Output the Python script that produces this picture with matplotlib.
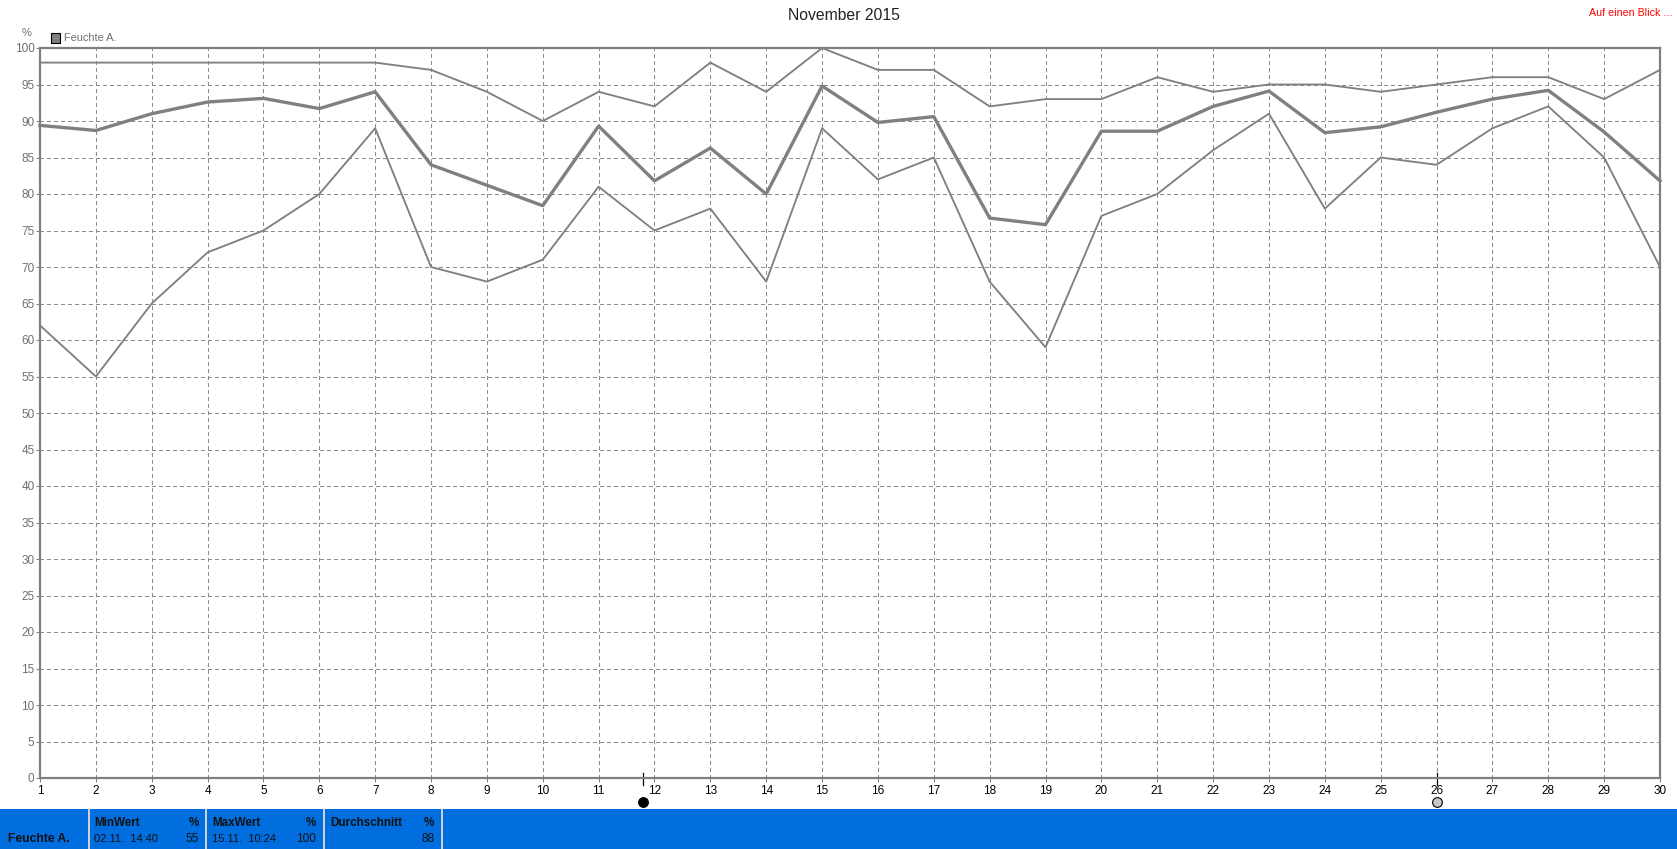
import matplotlib
matplotlib.use("Agg")
import matplotlib.pyplot as plt
from matplotlib.patches import Rectangle

plt.rcParams['font.family'] = ['Liberation Sans', 'DejaVu Sans']

W, H = 1677, 849

days = list(range(1, 31))
hum_max = [98, 98, 98, 98, 98, 98, 98, 97, 94, 90, 94, 92, 98, 94, 100,
           97, 97, 92, 93, 93, 96, 94, 95, 95, 94, 95, 96, 96, 93, 97]
hum_avg = [89.4, 88.7, 91, 92.6, 93.1, 91.7, 94, 84, 81.2, 78.4, 89.3, 81.8, 86.3, 80, 94.8,
           89.8, 90.6, 76.7, 75.8, 88.6, 88.6, 92, 94.1, 88.4, 89.2, 91.2, 93, 94.2, 88.5, 81.8]
hum_min = [62, 55, 65, 72, 75, 80, 89, 70, 68, 71, 81, 75, 78, 68, 89,
           82, 85, 68, 59, 77, 80, 86, 91, 78, 85, 84, 89, 92, 85, 70]
y_ticks = list(range(0, 101, 5))
moon_days = [11.79, 26.0]
moon_fill = ['black', '#c8c8c8']

title = 'November 2015'
series_name = 'Feuchte A.'
link_text = 'Auf einen Blick ...'
panel_heads = ['MinWert', 'MaxWert', 'Durchschnitt']
panel_times = ['02.11.  14:40', '15.11.  10:24', '']
panel_vals = ['55', '100', '88']

GRAY = '#808080'
BLUE = '#006EDF'


def fx(px):
    return px / W


def fy(px):
    return 1 - px / H


fig = plt.figure(figsize=(W / 100, H / 100), dpi=100, facecolor='white')
ax = fig.add_axes([fx(40), fy(778), fx(1660 - 40), fy(48) - fy(778)])
ax.set_xlim(1, 30)
ax.set_ylim(0, 100)
ax.set_xticks(days)
ax.set_yticks(y_ticks)
ax.grid(True, color='#8c8c8c', linestyle=(0, (3.5, 3)), linewidth=0.72, antialiased=False)
ax.set_axisbelow(True)

ax.plot(days, hum_max, color=GRAY, linewidth=1.35, clip_on=False)
ax.plot(days, hum_avg, color=GRAY, linewidth=2.4, clip_on=False)
ax.plot(days, hum_min, color=GRAY, linewidth=1.35, clip_on=False)

for s in ax.spines.values():
    s.set_color(GRAY)
    s.set_linewidth(1.6)

ax.tick_params(axis='y', length=3, width=0.72, color=GRAY, labelcolor='#707070', labelsize=8.5, pad=1)
ax.tick_params(axis='x', length=3, width=0.72, color=GRAY, labelcolor='black', labelsize=8.5, pad=2)

# moon markers under the axis
for d, c in zip(moon_days, moon_fill):
    ax.plot([d, d], [0.7, -1.0], color='black', linewidth=0.9, clip_on=False)
    ax.plot([d], [-3.3], marker='o', markersize=7, markerfacecolor=c,
            markeredgecolor='black', markeredgewidth=0.8, clip_on=False)

fig.text(fx(844), fy(15), title, ha='center', va='center', fontsize=11.3, color='#222222')
fig.text(fx(1672), fy(13), link_text, ha='right', va='center', fontsize=7.7, color='red')
fig.text(fx(26.5), fy(33), '%', ha='center', va='center', fontsize=8, color='#707070')

fig.add_artist(Rectangle((fx(50.5), fy(43)), 9.5 / W, 10 / H, transform=fig.transFigure,
                         facecolor=GRAY, edgecolor='black', linewidth=0.8))
fig.text(fx(64), fy(38), series_name, ha='left', va='center', fontsize=7.9, color='#707070')

# blue info bar
fig.add_artist(Rectangle((0, 0), 1, 40 / H, transform=fig.transFigure, facecolor=BLUE, edgecolor='none'))
for x in [88, 205, 323, 441]:
    fig.add_artist(Rectangle((fx(x), 0), 1.5 / W, 40 / H, transform=fig.transFigure,
                             facecolor='#d0d0d0', edgecolor='none'))

fig.text(fx(8), fy(839), series_name, ha='left', va='center', fontsize=8.7, fontweight='bold', color='#111111')
left_px = [94, 212, 330]
right_px = [199, 316, 434]
for head, tm, val, lx, rx in zip(panel_heads, panel_times, panel_vals, left_px, right_px):
    fig.text(fx(lx), fy(823), head, ha='left', va='center', fontsize=8.4, fontweight='bold', color='#111111')
    fig.text(fx(rx), fy(823), '%', ha='right', va='center', fontsize=8.4, fontweight='bold', color='#111111')
    fig.text(fx(lx), fy(839), tm, ha='left', va='center', fontsize=8, color='#111111')
    fig.text(fx(rx), fy(839), val, ha='right', va='center', fontsize=8.5, color='#111111')

fig.savefig('out.png', dpi=100)
